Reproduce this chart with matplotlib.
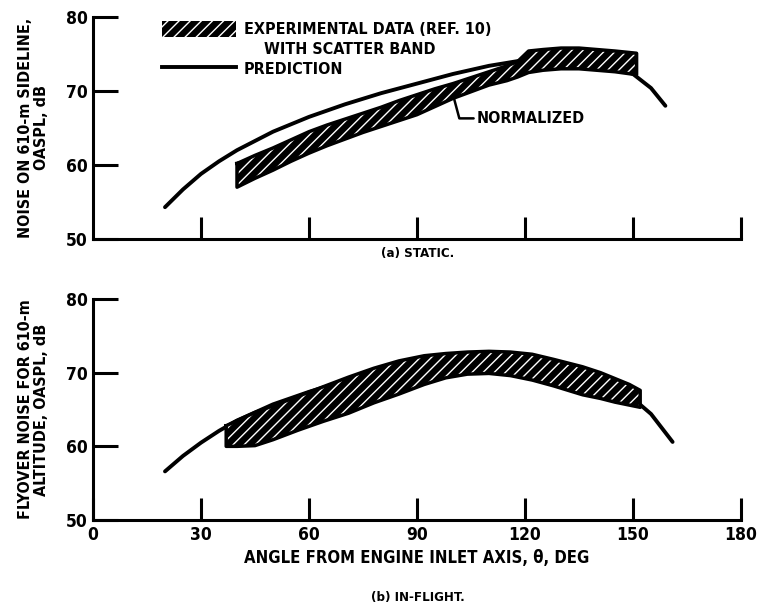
import matplotlib
matplotlib.use('Agg')
import matplotlib.pyplot as plt
from matplotlib.patches import Patch
from matplotlib.lines import Line2D

plt.rcParams['font.family'] = ['DejaVu Sans', 'Liberation Sans Narrow']
plt.rcParams['font.stretch'] = 'condensed'
plt.rcParams['font.weight'] = 'bold'
plt.rcParams['axes.labelweight'] = 'bold'
plt.rcParams['hatch.color'] = 'white'
plt.rcParams['hatch.linewidth'] = 1.0

# (a) static - prediction curve
static_pred_x = [20, 25, 30, 35, 40, 50, 60, 70, 80, 90, 100, 110, 120, 130, 140, 150, 155, 159]
static_pred_y = [54.3, 56.7, 58.8, 60.5, 62.0, 64.5, 66.5, 68.2, 69.7, 71.0, 72.3, 73.4, 74.2, 74.5, 74.0, 72.3, 70.4, 68.0]
# (a) static - experimental scatter band
static_band_x = [40, 45, 50, 55, 60, 65, 70, 75, 80, 85, 90, 95, 100, 105, 110, 115, 118, 121,
                 125, 130, 135, 140, 145, 151]
static_band_hi = [60.2, 61.3, 62.3, 63.4, 64.5, 65.4, 66.2, 67.0, 67.8, 68.7, 69.5, 70.3, 71.0, 71.8,
                  72.6, 73.4, 74.0, 75.4, 75.6, 75.8, 75.8, 75.6, 75.4, 75.1]
static_band_lo = [57.0, 58.2, 59.3, 60.5, 61.6, 62.6, 63.5, 64.4, 65.2, 66.0, 66.8, 67.9, 69.0, 69.9,
                  70.8, 71.4, 71.9, 72.5, 72.8, 73.0, 73.0, 72.8, 72.6, 72.2]

# (b) in-flight - prediction curve
flight_pred_x = [20, 25, 30, 35, 40, 50, 60, 70, 80, 90, 100, 110, 120, 130, 140, 150, 155, 161]
flight_pred_y = [56.6, 58.7, 60.5, 62.1, 63.5, 65.7, 67.4, 68.9, 70.3, 71.3, 71.9, 72.0, 71.6, 70.6,
                 69.0, 66.5, 64.4, 60.6]
# (b) in-flight - experimental scatter band
flight_band_x = [37, 40, 45, 50, 57, 64, 71, 78, 85, 92, 98, 104, 110, 116, 122, 128, 136, 141, 145, 149, 152]
flight_band_hi = [62.8, 63.5, 64.6, 65.5, 66.8, 68.1, 69.4, 70.6, 71.6, 72.3, 72.6, 72.8, 72.9, 72.8,
                  72.5, 71.8, 70.8, 70.0, 69.2, 68.4, 67.6]
flight_band_lo = [60.0, 60.0, 60.1, 60.9, 62.2, 63.4, 64.5, 65.9, 67.1, 68.4, 69.3, 69.8, 69.9, 69.6,
                  69.0, 68.2, 67.0, 66.5, 66.0, 65.6, 65.3]

x_ticks = [30, 60, 90, 120, 150, 180]
x_ticklabels = ['0', '30', '60', '90', '120', '150', '180']
y_ticks = [50, 60, 70, 80]

fig = plt.figure(figsize=(7.61, 6.13), dpi=100)
ax1 = fig.add_axes([0.1222, 0.6101, 0.8515, 0.3622])
ax2 = fig.add_axes([0.1222, 0.1517, 0.8515, 0.3605])


def style_axes(ax, show_xlabels):
    ax.set_xlim(0, 180)
    ax.set_ylim(50, 80)
    for s in ['top', 'right']:
        ax.spines[s].set_visible(False)
    for s in ['left', 'bottom']:
        ax.spines[s].set_linewidth(2.2)
    ax.set_xticks(x_ticks)
    ax.set_yticks(y_ticks)
    ax.tick_params(axis='x', direction='in', length=16, width=2.2)
    ax.tick_params(axis='y', direction='in', length=18, width=2.2, labelsize=12.5, pad=4)
    if show_xlabels:
        ax.set_xticks([0] + x_ticks)
        ax.set_xticklabels(x_ticklabels, fontsize=12.5)
        ax.tick_params(axis='x', pad=4)
    else:
        ax.set_xticklabels([])


def draw_band(ax, bx, lo, hi):
    ax.fill_between(bx, lo, hi, facecolor='black', edgecolor='white', hatch='///',
                    linewidth=0, zorder=3)
    ax.plot(bx + bx[::-1] + bx[:1], hi + lo[::-1] + hi[:1], color='black', lw=2.5,
            solid_joinstyle='round', zorder=4)


# (a) static
ax1.plot(static_pred_x, static_pred_y, color='black', lw=2.8, solid_capstyle='round', zorder=2)
draw_band(ax1, static_band_x, static_band_lo, static_band_hi)
style_axes(ax1, False)
ax1.set_ylabel('NOISE ON 610-m SIDELINE,\nOASPL, dB', fontsize=11.5, labelpad=12, linespacing=1.1)

handles = [Patch(facecolor='black', edgecolor='white', hatch='///', linewidth=0),
           Line2D([], [], color='none'),
           Line2D([0], [0], color='black', lw=2.8)]
labels = ['EXPERIMENTAL DATA (REF. 10)', '    WITH SCATTER BAND', 'PREDICTION']
ax1.legend(handles, labels, loc='upper left', bbox_to_anchor=(0.085, 1.045), frameon=False,
           fontsize=11.5, handlelength=4.6, handleheight=1.1, handletextpad=0.5,
           labelspacing=0.22)

ax1.annotate('NORMALIZED', xy=(100, 69.5), xytext=(106.5, 66.3), fontsize=11.5,
             va='center', ha='left',
             arrowprops=dict(arrowstyle='-', lw=1.8, color='black',
                             connectionstyle='angle,angleA=0,angleB=105,rad=0',
                             shrinkA=0, shrinkB=0))

# (b) in-flight
ax2.plot(flight_pred_x, flight_pred_y, color='black', lw=2.8, solid_capstyle='round', zorder=2)
draw_band(ax2, flight_band_x, flight_band_lo, flight_band_hi)
style_axes(ax2, True)
ax2.set_ylabel('FLYOVER NOISE FOR 610-m\nALTITUDE, OASPL, dB', fontsize=11.5, labelpad=12, linespacing=1.1)
ax2.set_xlabel('ANGLE FROM ENGINE INLET AXIS, \u03b8, DEG', fontsize=12, labelpad=4)

fig.text(0.549, 0.586, '(a) STATIC.', ha='center', va='center', fontsize=9.5, fontweight='bold')
fig.text(0.549, 0.025, '(b) IN-FLIGHT.', ha='center', va='center', fontsize=9.5, fontweight='bold')

fig.savefig('out.png', dpi=100, facecolor='white')
